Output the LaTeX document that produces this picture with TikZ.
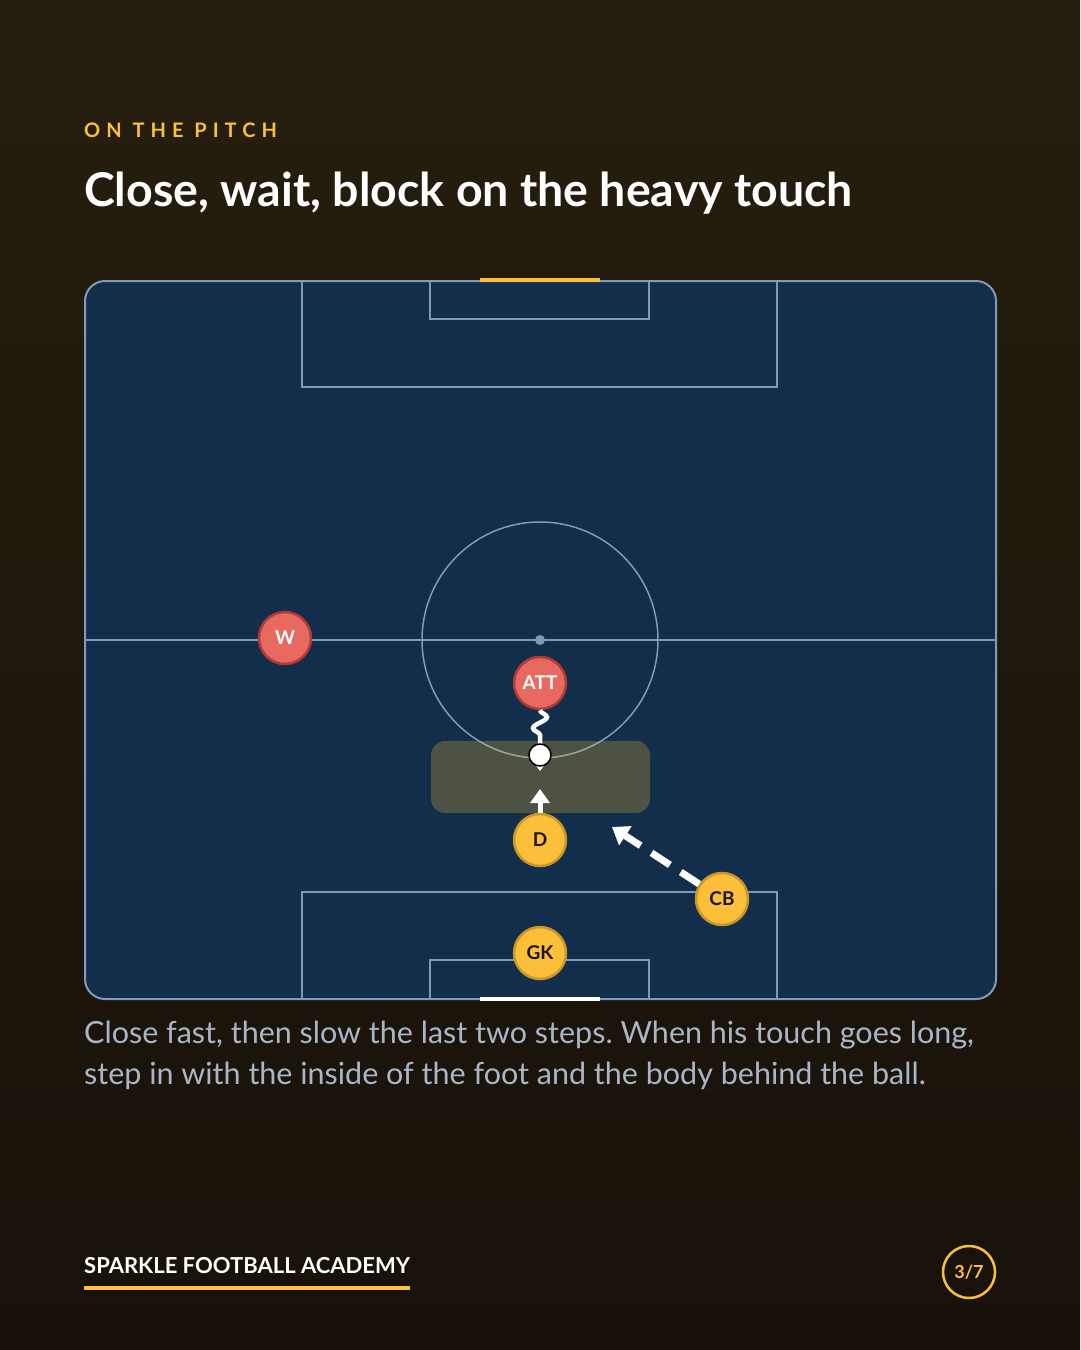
\documentclass[tikz,border=0pt]{standalone}
\usepackage{fontspec}
\setmainfont{Lato}
\usepackage{xcolor}
\usepackage{tikz}
\usetikzlibrary{arrows.meta,positioning,decorations.pathmorphing}
\definecolor{bgtop}{RGB}{38,30,13}
\definecolor{bgbottom}{RGB}{24,17,10}
\definecolor{pitchblue}{RGB}{19,46,74}
\definecolor{lineblue}{RGB}{127,155,184}
\definecolor{accentgold}{RGB}{251,191,58}
\definecolor{golddark}{RGB}{201,150,42}
\definecolor{attred}{RGB}{232,105,95}
\definecolor{reddark}{RGB}{176,58,53}
\definecolor{captiongray}{RGB}{170,182,200}
\definecolor{inkdark}{RGB}{26,22,15}
\frenchspacing

\begin{document}
\begin{tikzpicture}[x=1pt, y=-1pt]
    \tikzstyle{player} = [circle, draw, line width=2.5pt, minimum size=52pt, inner sep=0pt, font=\fontsize{19}{19}\selectfont\bfseries]
    \tikzstyle{attacker} = [player, fill=attred, draw=reddark, text=white]
    \tikzstyle{defender} = [player, fill=accentgold, draw=golddark, text=inkdark]
    \tikzstyle{marking} = [draw=lineblue, line width=1.5pt]
    \tikzstyle{run} = [white, line width=5pt, -{Triangle[length=14pt,width=19pt]}]
    \tikzstyle{zone} = [rectangle, fill=accentgold, fill opacity=0.25, rounded corners=14pt, minimum width=219pt, minimum height=72pt, inner sep=0pt]

    % Background
    \shade[top color=bgtop, bottom color=bgbottom] (0,0) rectangle (1080,1350);
    \useasboundingbox (0,0) rectangle (1080,1350);

    % Header
    \node[anchor=base west, inner sep=0pt, text=accentgold, font=\fontsize{20}{20}\selectfont\bfseries\addfontfeature{LetterSpace=30}] (kicker) at (84,137) {ON THE PITCH};
    \node[anchor=base west, inner sep=0pt, text=white, font=\fontsize{46.5}{52}\selectfont\bfseries] (title) at (84,206) {Close, wait, block on the heavy touch};

    % Pitch
    \draw[fill=pitchblue, draw=lineblue, line width=2pt, rounded corners=20pt] (85,281) rectangle (996,999);
    \draw[marking] (85,640) -- (996,640);
    \draw[marking] (540,640) circle[radius=118];
    \fill[lineblue] (540,640) circle[radius=5];
    \draw[marking] (302,281) rectangle (777,387);
    \draw[marking] (430,281) rectangle (649,319);
    \draw[marking] (302,892) rectangle (777,999);
    \draw[marking] (430,960) rectangle (649,999);
    \draw[accentgold, line width=4.5pt] (480,280) -- (600,280);
    \draw[white, line width=4.5pt] (480,999) -- (600,999);

    % Block zone
    \node[zone] (blockzone) at (540.5,777) {};

    % Players
    \node[attacker] (w) at (285,638) {W};
    \node[attacker] (att) at (540,683) {ATT};
    \node[defender] (d) at (540,840) {D};
    \node[defender] (cb) at (722,899) {CB};
    \node[defender] (gk) at (540,953) {GK};

    % Runs
    \coordinate (touch) at (540,771);
    \coordinate (dstep) at (540,789);
    \coordinate (cover) at (612,827);
    \draw[white, line width=4.5pt, -{Triangle[length=10pt,width=14pt]}, decorate, decoration={snake, amplitude=7pt, segment length=22pt, post length=26pt}] (att) -- (touch);
    \draw[run] (d) -- (dstep);
    \draw[run, dash pattern=on 22pt off 13pt, line width=7pt, -{Triangle[length=16pt,width=22pt]}] (cb) -- (cover);

    % Ball
    \node[circle, fill=white, draw=black, line width=1.5pt, minimum size=22pt, inner sep=0pt] (ball) at (540,755) {};

    % Caption
    \node[anchor=north west, inner sep=0pt, align=left, text=captiongray, font=\fontsize{30.5}{41}\selectfont] (caption) at (84,1021) {Close fast, then slow the last two steps. When his touch goes long,\\step in with the inside of the foot and the body behind the ball.};

    % Footer
    \node[anchor=base west, inner sep=0pt, text=white, font=\fontsize{22}{22}\selectfont\bfseries] (brand) at (84,1273) {SPARKLE FOOTBALL ACADEMY};
    \draw[accentgold, line width=4pt] ([yshift=-15pt]brand.base west) -- ([yshift=-15pt]brand.base east);
    \node[circle, draw=accentgold, line width=2.5pt, minimum size=52pt, inner sep=0pt, text=accentgold, font=\fontsize{18}{18}\selectfont\bfseries] (page) at (969,1272) {3/7};
\end{tikzpicture}
\end{document}
